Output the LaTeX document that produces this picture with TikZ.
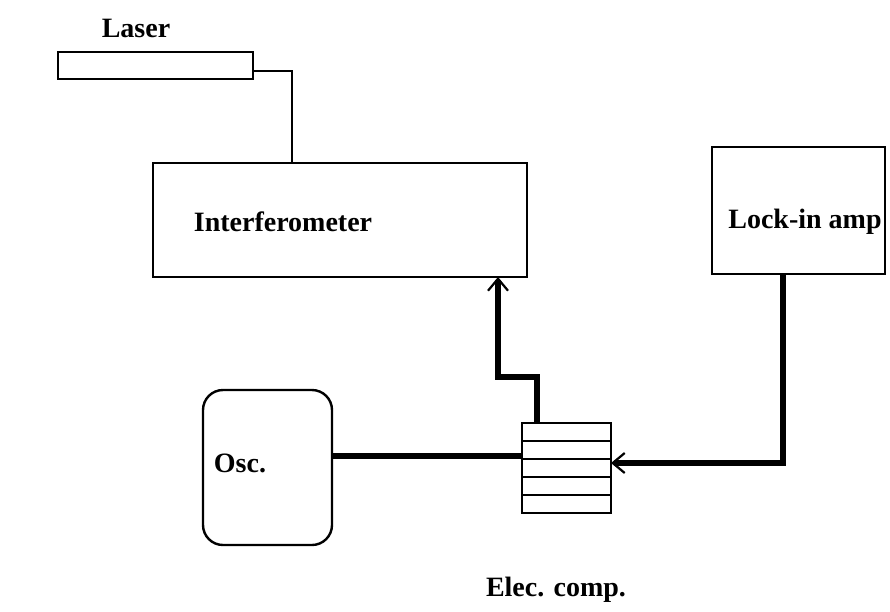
\documentclass[tikz,border=0pt]{standalone}
\usepackage{fontspec}
\setmainfont{Liberation Serif}
\usetikzlibrary{arrows.meta,calc}

\begin{document}
\begin{tikzpicture}[
        x=1pt, y=-1pt,
        unit/.style={draw, line width=2.4pt, inner sep=0pt, outer sep=0pt},
        tag/.style={font=\bfseries\fontsize{28}{30}\selectfont, inner sep=0pt},
        wire/.style={line width=1.8pt},
        sig/.style={line width=5.5pt, -{Straight Barb[length=12pt, width=20pt, line width=2.2pt]}}
    ]
        \useasboundingbox (0,0) rectangle (890,611);
        % blocks
        \node[unit, minimum width=195pt, minimum height=27pt]  (laser)  at (155.5,65.5) {};
        \node[unit, minimum width=374pt, minimum height=114pt] (interf) at (340,220) {};
        \node[unit, minimum width=173pt, minimum height=127pt] (lockin) at (798.5,210.5) {};
        \node[unit, rounded corners=20pt, minimum width=129pt, minimum height=155pt] (osc) at (267.5,467.5) {};
        \node[unit, minimum width=89pt, minimum height=90pt]   (elec)   at (566.5,468) {};
        \foreach \i in {1,...,4}
            \draw[line width=2.6pt] ($(elec.north west)!\i/5!(elec.south west)$) -- ($(elec.north east)!\i/5!(elec.south east)$);
        % labels
        \node[tag] (lasertxt)  at (136,28)   {Laser};
        \node[tag] (interftxt) at (283,222)  {Interferometer};
        \node[tag] (lockintxt) at (805,222)  {Lock-in amp};
        \node[tag] (osctxt)    at (240,463)  {Osc.};
        \node[tag] (electxt)   at (556,590)  {Elec. comp.};
        % connections
        \coordinate (tap)  at (292,163);
        \coordinate (bend) at (498,377);
        \draw[wire] ([yshift=-5.5pt]laser.east) -| (tap);
        \draw[sig] ([xshift=15pt]elec.north west) |- (bend) -- (bend |- interf.south);
        \draw[line width=5.5pt] ([yshift=11.5pt]osc.east) -- ([yshift=11.5pt]osc.east -| elec.west);
        \draw[sig] ([xshift=-15.5pt]lockin.south) |- ([yshift=5pt]elec.east);
    \end{tikzpicture}
\end{document}
